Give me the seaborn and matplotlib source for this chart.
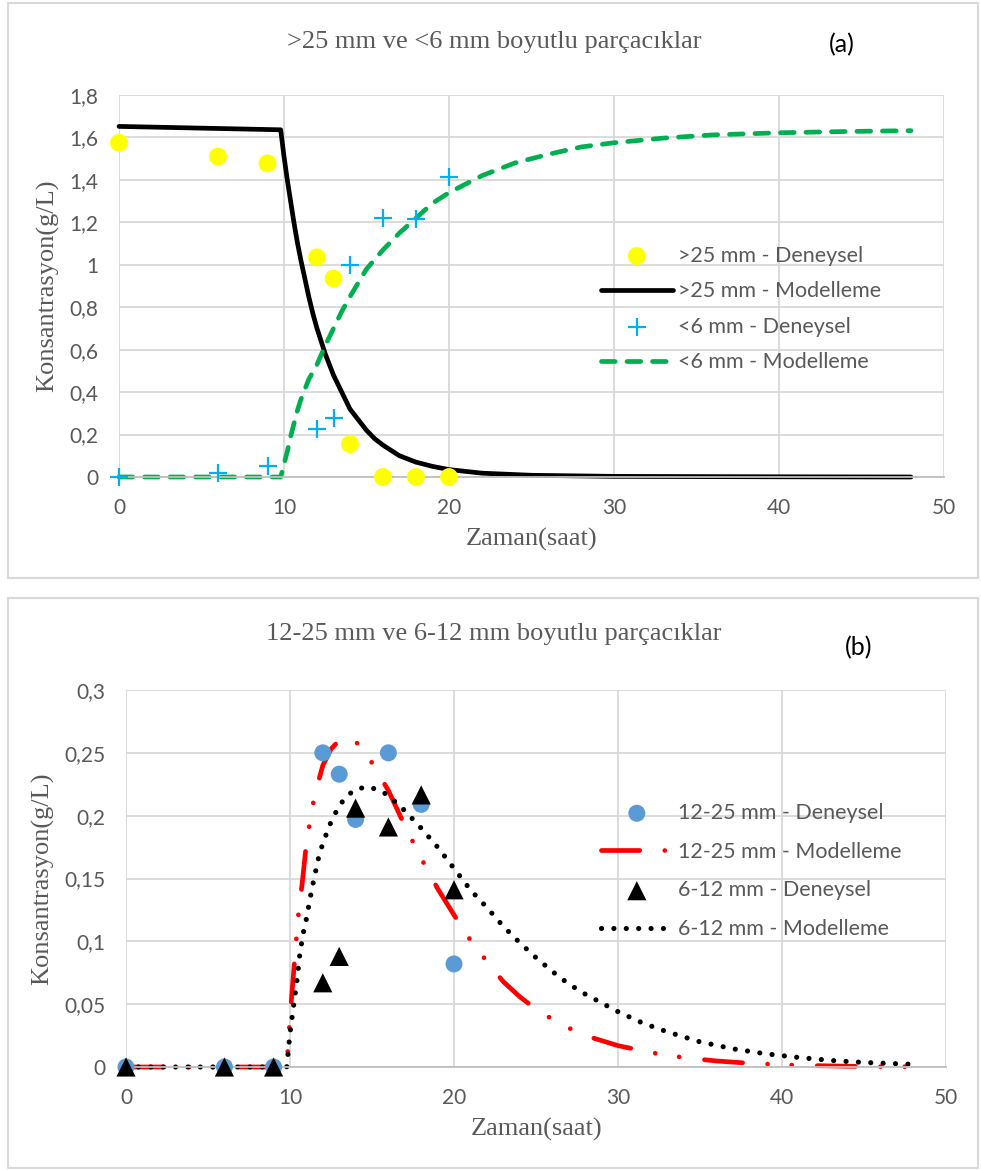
import matplotlib
matplotlib.use("Agg")
import matplotlib.pyplot as plt
import seaborn as sns
import pandas as pd
from matplotlib.patches import Rectangle
from matplotlib.ticker import FuncFormatter, MultipleLocator

# ---------------- Panel (a) data ----------------
t_exp_a = [0, 6, 9, 12, 13, 14, 16, 18, 20]
big_exp = [1.575, 1.51, 1.478, 1.035, 0.935, 0.155, 0, 0, 0]
fine_exp = [0, 0.017, 0.05, 0.225, 0.28, 0.997, 1.222, 1.214, 1.415]

t_big_mod = [0, 9.8, 10.0, 10.2, 10.4, 10.6, 10.8, 11, 11.25, 11.5, 11.75, 12, 12.25,
             12.5, 12.75, 13, 13.5, 14, 14.5, 15, 15.5, 16, 17, 18, 19, 20, 22, 25, 30,
             40, 48]
big_mod = [1.652, 1.636, 1.51, 1.40, 1.30, 1.20, 1.11, 1.03, 0.94, 0.85, 0.77, 0.70,
           0.64, 0.58, 0.53, 0.48, 0.40, 0.32, 0.27, 0.22, 0.18, 0.15, 0.10, 0.07, 0.05,
           0.035, 0.018, 0.008, 0.003, 0.001, 0.0]

t_fine_mod = [0, 9.8, 10.0, 10.2, 10.4, 10.6, 10.8, 11, 11.5, 12, 12.5, 13, 13.5, 14,
              15, 16, 17, 18, 19, 20, 22, 24, 26, 28, 30, 33, 36, 40, 44, 48]
fine_mod = [0, 0, 0.06, 0.12, 0.19, 0.25, 0.31, 0.36, 0.46, 0.53, 0.62, 0.70, 0.78,
            0.85, 0.98, 1.07, 1.15, 1.22, 1.29, 1.34, 1.42, 1.48, 1.52, 1.555, 1.575,
            1.597, 1.612, 1.622, 1.628, 1.632]

# ---------------- Panel (b) data ----------------
t_exp_b = [0, 6, 9, 12, 13, 14, 16, 18, 20]
mid_exp = [0, 0, 0, 0.250, 0.233, 0.197, 0.250, 0.209, 0.082]
small_exp = [0, 0, 0, 0.067, 0.088, 0.206, 0.191, 0.2165, 0.141]

t_mid_mod = [0, 9.8, 10, 10.3, 10.5, 10.75, 11, 11.25, 11.5, 12, 12.5, 13, 13.5, 14,
             14.5, 15, 16, 17, 18, 19, 20, 21, 22, 23, 24, 25, 26, 27, 28, 30, 32, 34,
             36, 38, 40, 42, 44, 46, 48]
mid_mod = [0, 0, 0.04, 0.088, 0.12, 0.147, 0.178, 0.198, 0.216, 0.240, 0.253, 0.260,
           0.262, 0.259, 0.252, 0.242, 0.220, 0.192, 0.166, 0.142, 0.121, 0.101, 0.084,
           0.068, 0.056, 0.046, 0.038, 0.031, 0.025, 0.017, 0.0115, 0.0075, 0.0048,
           0.003, 0.0018, 0.0011, 0.0006, 0.0003, 0.0002]

t_small_mod = [0, 9.8, 10, 10.2, 10.4, 10.6, 10.8, 11, 11.25, 11.5, 11.75, 12, 12.5, 13,
               13.5, 14, 14.75, 15.5, 16, 17, 18, 19, 20, 21, 22, 23, 24, 25, 26, 27, 28,
               29, 30, 31.5, 33, 35, 37, 39, 41, 43, 45, 48]
small_mod = [0, 0, 0.027, 0.047, 0.066, 0.090, 0.106, 0.118, 0.136, 0.152, 0.167, 0.178,
             0.195, 0.208, 0.216, 0.221, 0.223, 0.220, 0.216, 0.204, 0.190, 0.175, 0.158,
             0.141, 0.127, 0.112, 0.099, 0.087, 0.076, 0.066, 0.058, 0.051, 0.044, 0.035,
             0.028, 0.020, 0.0145, 0.0105, 0.0076, 0.0052, 0.0036, 0.0021]

x_ticks = [0, 10, 20, 30, 40, 50]

# ---------------- style ----------------
sns.set_theme(style="white")
plt.rcParams["font.family"] = ["Lato", "DejaVu Sans"]
GRAY_TXT = "#595959"
GRID = "#D9D9D9"
SERIF = ["Liberation Serif", "DejaVu Serif"]
TICK_FS = 15
LEG_FS = 15.5
SERIF_FS = 19

W, H = 981, 1171
fig = plt.figure(figsize=(W / 100, H / 100), dpi=100)

# panel frames
for (y0, y1) in [(3, 578), (598, 1168)]:
    fig.patches.append(Rectangle((8 / W, 1 - y1 / H), (978 - 8) / W, (y1 - y0) / H,
                                 transform=fig.transFigure, fill=False,
                                 edgecolor="#D9D9D9", linewidth=1.5))

comma = FuncFormatter(lambda v, _: f"{v:g}".replace(".", ","))


def style_axes(ax, ymax, ystep):
    ax.set_xlim(0, 50)
    ax.set_ylim(0, ymax)
    ax.set_xticks(x_ticks)
    ax.yaxis.set_major_locator(MultipleLocator(ystep))
    ax.yaxis.set_major_formatter(comma)
    ax.grid(True, color=GRID, linewidth=1.3)
    ax.set_axisbelow(True)
    for s in ["top", "right", "left"]:
        ax.spines[s].set_visible(False)
    ax.spines["bottom"].set_color("#BFBFBF")
    ax.spines["bottom"].set_linewidth(1.3)
    ax.tick_params(axis="both", length=0, labelsize=TICK_FS, labelcolor=GRAY_TXT)
    ax.tick_params(axis="x", pad=15)
    ax.tick_params(axis="y", pad=15)
    ax.set_xlabel("Zaman(saat)", family=SERIF, fontsize=SERIF_FS, color=GRAY_TXT,
                  labelpad=7)
    ax.set_ylabel("Konsantrasyon(g/L)", family=SERIF, fontsize=SERIF_FS,
                  color=GRAY_TXT, labelpad=7)


def legend(ax, names, y_center, spacing):
    h, l = ax.get_legend_handles_labels()
    order = [l.index(n) for n in names]
    ax.legend([h[i] for i in order], [l[i] for i in order], loc="center left",
              bbox_to_anchor=(590 / W, 1 - y_center / H), bbox_transform=fig.transFigure,
              frameon=False, fontsize=LEG_FS, labelcolor=GRAY_TXT, handlelength=3.35,
              handletextpad=0.25, labelspacing=spacing, borderpad=0)


# ---------------- Panel (a) ----------------
ax1 = fig.add_axes([119 / W, 1 - 477 / H, (944 - 119) / W, (477 - 95) / H])
sns.lineplot(x=t_big_mod, y=big_mod, ax=ax1, color="black", linewidth=3.4,
             estimator=None, errorbar=None, sort=False, label=">25 mm - Modelleme",
             clip_on=False, solid_capstyle="round", solid_joinstyle="round")
sns.lineplot(x=t_fine_mod, y=fine_mod, ax=ax1, color="#00B050", linewidth=3.4,
             estimator=None, errorbar=None, sort=False, label="<6 mm - Modelleme",
             linestyle=(0, (2.9, 2.5)), dash_capstyle="round", clip_on=False)
sns.scatterplot(x=t_exp_a, y=big_exp, ax=ax1, color="#FFFF00", s=165, marker="o",
                edgecolor="none", label=">25 mm - Deneysel", zorder=3, clip_on=False)
sns.scatterplot(x=t_exp_a, y=fine_exp, ax=ax1, color="#00B0F0", s=160, marker="+",
                linewidth=1.6, label="<6 mm - Deneysel", zorder=4, clip_on=False)
style_axes(ax1, 1.8, 0.2)
legend(ax1, [">25 mm - Deneysel", ">25 mm - Modelleme", "<6 mm - Deneysel",
             "<6 mm - Modelleme"], 309, 0.72)

fig.text(494 / W, 1 - 42 / H, ">25 mm ve <6 mm boyutlu parçacıklar", family=SERIF,
         fontsize=SERIF_FS, color=GRAY_TXT, ha="center", va="center")
fig.text(842 / W, 1 - 45 / H, "(a)", fontsize=18, color="black", ha="center",
         va="center")

# ---------------- Panel (b) ----------------
ax2 = fig.add_axes([126 / W, 1 - 1067 / H, (946 - 126) / W, (1067 - 690) / H])
sns.lineplot(x=t_mid_mod, y=mid_mod, ax=ax2, color="#FF0000", linewidth=3.4,
             estimator=None, errorbar=None, sort=False, label="12-25 mm - Modelleme",
             linestyle=(0, (8.1, 5.3, 0.01, 5.1, 0.01, 5.4)), dash_capstyle="round",
             clip_on=False)
sns.lineplot(x=t_small_mod, y=small_mod, ax=ax2, color="black", linewidth=3.7,
             estimator=None, errorbar=None, sort=False, label="6-12 mm - Modelleme",
             linestyle=(0, (0.01, 2.4)), dash_capstyle="round", clip_on=False)
sns.scatterplot(x=t_exp_b, y=mid_exp, ax=ax2, color="#5B9BD5", s=150, marker="o",
                edgecolor="none", label="12-25 mm - Deneysel", zorder=3, clip_on=False)
sns.scatterplot(x=t_exp_b, y=small_exp, ax=ax2, color="black", s=190, marker="^",
                edgecolor="none", label="6-12 mm - Deneysel", zorder=4, clip_on=False)
style_axes(ax2, 0.3, 0.05)
legend(ax2, ["12-25 mm - Deneysel", "12-25 mm - Modelleme", "6-12 mm - Deneysel",
             "6-12 mm - Modelleme"], 871, 0.87)

fig.text(494 / W, 1 - 634 / H, "12-25 mm ve 6-12 mm boyutlu parçacıklar", family=SERIF,
         fontsize=SERIF_FS, color=GRAY_TXT, ha="center", va="center")
fig.text(859 / W, 1 - 648 / H, "(b)", fontsize=18, color="black", ha="center",
         va="center")

fig.savefig("out.png", dpi=100)
